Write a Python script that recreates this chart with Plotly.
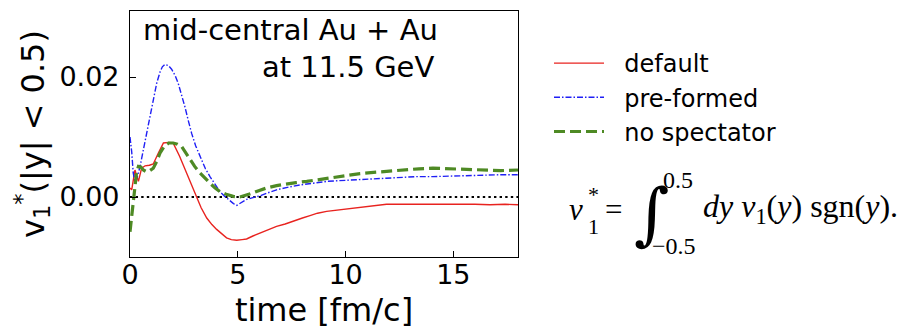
import plotly.graph_objects as go

# ---------------- data ----------------
t_default = [0, 0.08, 0.23, 0.39, 0.54, 0.70, 0.9, 1.08, 1.31, 1.55, 1.8, 2.0, 2.3, 2.63, 2.85,
             3.09, 3.3, 3.56, 3.8, 4.02, 4.25, 4.48, 4.7, 4.95, 5.2, 5.41, 5.7, 6.03, 6.4, 6.8,
             7.2, 7.57, 8.0, 8.35, 8.7, 9.12, 9.6, 10.05, 10.5, 10.98, 11.5, 11.9, 12.5, 13.3,
             14.0, 14.7, 15.3, 16.0, 16.7, 17.4, 18.0]
v_default = [0.0015, 0.0012, 0.0045, 0.0026, 0.0048, 0.0052, 0.0053, 0.0055, 0.0073, 0.0090,
             0.0091, 0.0090, 0.0068, 0.0040, 0.0020, 0.0000, -0.0018, -0.0035, -0.0046, -0.0054,
             -0.0061, -0.0068, -0.0071, -0.0072, -0.0071, -0.0070, -0.0065, -0.0060, -0.0055,
             -0.0049, -0.0045, -0.0040, -0.0035, -0.0031, -0.0027, -0.0024, -0.0022, -0.0020,
             -0.0018, -0.0015, -0.0013, -0.0012, -0.0012, -0.0012, -0.0011, -0.0012, -0.0012,
             -0.0012, -0.0013, -0.0012, -0.0013]

t_preformed = [0, 0.08, 0.15, 0.23, 0.35, 0.46, 0.6, 0.77, 0.92, 1.08, 1.24, 1.39, 1.5, 1.62,
               1.78, 1.93, 2.1, 2.24, 2.4, 2.55, 2.7, 2.86, 3.05, 3.25, 3.5, 3.71, 3.95, 4.17,
               4.4, 4.64, 4.8, 4.95, 5.15, 5.41, 5.7, 6.03, 6.4, 6.8, 7.3, 7.88, 8.5, 9.12,
               9.6, 10.05, 10.5, 10.98, 11.7, 12.5, 13.3, 14.05, 14.8, 15.5, 16.3, 17.1, 18.0]
v_preformed = [0.0100, 0.0075, 0.0040, 0.0025, 0.0035, 0.0050, 0.0075, 0.0106, 0.0137, 0.0167,
               0.0190, 0.0208, 0.0217, 0.0221, 0.0219, 0.0213, 0.0202, 0.0189, 0.0170, 0.0150,
               0.0128, 0.0106, 0.0085, 0.0067, 0.0047, 0.0034, 0.0020, 0.0009, 0.0001, -0.0007,
               -0.0011, -0.0014, -0.0009, -0.0004, -0.0001, 0.0002, 0.0007, 0.0012, 0.0016,
               0.0020, 0.0023, 0.0026, 0.0027, 0.0028, 0.0028, 0.0029, 0.0031, 0.0033, 0.0034,
               0.0034, 0.0035, 0.0036, 0.0036, 0.0037, 0.0037]

t_nospect = [0, 0.08, 0.2, 0.3, 0.39, 0.5, 0.62, 0.77, 0.92, 1.08, 1.25, 1.39, 1.6, 1.8, 2.0,
             2.2, 2.4, 2.6, 2.78, 3.0, 3.25, 3.5, 3.71, 3.95, 4.17, 4.5, 4.79, 5.1, 5.4, 5.72,
             6.0, 6.34, 6.8, 7.27, 7.7, 8.2, 8.8, 9.43, 10.0, 10.67, 11.3, 11.9, 12.4, 12.83,
             13.4, 14.05, 14.7, 15.3, 16.0, 16.4, 17.2, 18.0]
v_nospect = [-0.0058, -0.0030, 0.0015, 0.0040, 0.0051, 0.0050, 0.0045, 0.0042, 0.0044, 0.0048,
             0.0060, 0.0073, 0.0085, 0.0090, 0.0090, 0.0088, 0.0084, 0.0073, 0.0062, 0.0051,
             0.0040, 0.0030, 0.0023, 0.0015, 0.0009, 0.0004, 0.0001, 0.0000, 0.0003, 0.0007,
             0.0011, 0.0015, 0.0019, 0.0022, 0.0024, 0.0026, 0.0029, 0.0033, 0.0036, 0.0039,
             0.0041, 0.0043, 0.0045, 0.0046, 0.0047, 0.0048, 0.0047, 0.0046, 0.0045, 0.0044,
             0.0044, 0.0045]

series_names = ["default", "pre-formed", "no spectator"]
x_ticks = [0, 5, 10, 15]
y_ticks = [0.0, 0.02]
y_tick_labels = ["0.00", "0.02"]

# ---------------- figure ----------------
# The page body has an 8 px margin; the figure is sized to fill the rest of the window.
OFF = 8
W, H = 905 - OFF, 329 - OFF
ML, MR, MT, MB = 122, 387, 3, 72
PW, PH = W - ML - MR, H - MT - MB


def xp(px):  # screen pixel -> paper x
    return (px - OFF - ML) / PW


def yp(py):  # screen pixel -> paper y
    return (H - MB - (py - OFF)) / PH


FONT = "DejaVu Sans"
SERIF = "Liberation Serif"
PAD = "\u00a0\u00a0"

fig = go.Figure()
fig.add_trace(go.Scatter(x=t_default, y=v_default, mode="lines", name=PAD + series_names[0],
                         line=dict(color="#e8231f", width=1.4)))
fig.add_trace(go.Scatter(x=t_preformed, y=v_preformed, mode="lines", name=PAD + series_names[1],
                         line=dict(color="#1f1ff5", width=1.4, dash="6px,2px,1.5px,2px")))
fig.add_trace(go.Scatter(x=t_nospect, y=v_nospect, mode="lines", name=PAD + series_names[2],
                         line=dict(color="#4e8a24", width=3.2, dash="11px,5px")))

fig.add_shape(type="line", xref="paper", yref="y", x0=0, x1=1, y0=0, y1=0, layer="below",
              line=dict(color="black", width=2.2, dash="2.4px,3.2px"))

axis_common = dict(showline=True, mirror=True, linecolor="black", linewidth=1.2,
                   ticks="inside", ticklen=6, tickwidth=1, tickcolor="black",
                   showgrid=False, zeroline=False, automargin=False,
                   tickfont=dict(family=FONT, size=27, color="black"))

fig.update_xaxes(range=[0, 18], tickvals=x_ticks, ticklabelstandoff=-7,
                 title=dict(text="time [fm/c]", font=dict(family=FONT, size=32, color="black"),
                            standoff=15),
                 **axis_common)
fig.update_yaxes(range=[-0.01, 0.031], tickvals=y_ticks, ticktext=y_tick_labels,
                 ticklabelstandoff=4,
                 title=dict(text="v<sub>1</sub><sup>*</sup>(|y| < 0.5)",
                            font=dict(family=FONT, size=32, color="black"), standoff=5),
                 **axis_common)

ann = []
ann.append(dict(text="mid-central Au + Au", x=xp(440), y=yp(30), xanchor="right", yanchor="middle",
                font=dict(family=FONT, size=29, color="black")))
ann.append(dict(text="at 11.5 GeV", x=xp(436), y=yp(67), xanchor="right", yanchor="middle",
                font=dict(family=FONT, size=29, color="black")))

# formula: v1* = int_{-0.5}^{0.5} dy v1(y) sgn(y).
ann.append(dict(text="<i>v</i>", x=xp(567), y=yp(209.5), xanchor="left", yanchor="middle",
                font=dict(family=SERIF, size=31, color="black")))
ann.append(dict(text="*", x=xp(586), y=yp(194), xanchor="left", yanchor="middle",
                font=dict(family=SERIF, size=22, color="black")))
ann.append(dict(text="1", x=xp(586), y=yp(226), xanchor="left", yanchor="middle",
                font=dict(family=SERIF, size=22, color="black")))
ann.append(dict(text="=", x=xp(613), y=yp(209.5), xanchor="center", yanchor="middle",
                font=dict(family=SERIF, size=31, color="black")))
ann.append(dict(text="<i>∫</i>", x=xp(651), y=yp(213), xanchor="center", yanchor="middle",
                font=dict(family="DejaVu Serif", size=68, color="black")))
ann.append(dict(text="0.5", x=xp(678), y=yp(180), xanchor="center", yanchor="middle",
                font=dict(family=SERIF, size=24, color="black")))
ann.append(dict(text="−0.5", x=xp(674), y=yp(246), xanchor="center", yanchor="middle",
                font=dict(family=SERIF, size=24, color="black")))
ann.append(dict(text="<i>dy v</i><sub>1</sub>(<i>y</i>) sgn(<i>y</i>).", x=xp(701), y=yp(208.5),
                xanchor="left", yanchor="middle",
                font=dict(family=SERIF, size=32, color="black")))

for a in ann:
    a.update(xref="paper", yref="paper", showarrow=False)

fig.update_layout(
    width=W, height=H,
    margin=dict(l=ML, r=MR, t=MT, b=MB),
    paper_bgcolor="white", plot_bgcolor="white",
    font=dict(family=FONT, color="black"),
    annotations=ann,
    showlegend=True,
    legend=dict(x=xp(549), y=yp(41), xanchor="left", yanchor="top",
                font=dict(family=FONT, size=24, color="black"),
                bgcolor="rgba(0,0,0,0)", itemwidth=50, tracegroupgap=0),
)

fig.write_html("out.html")
